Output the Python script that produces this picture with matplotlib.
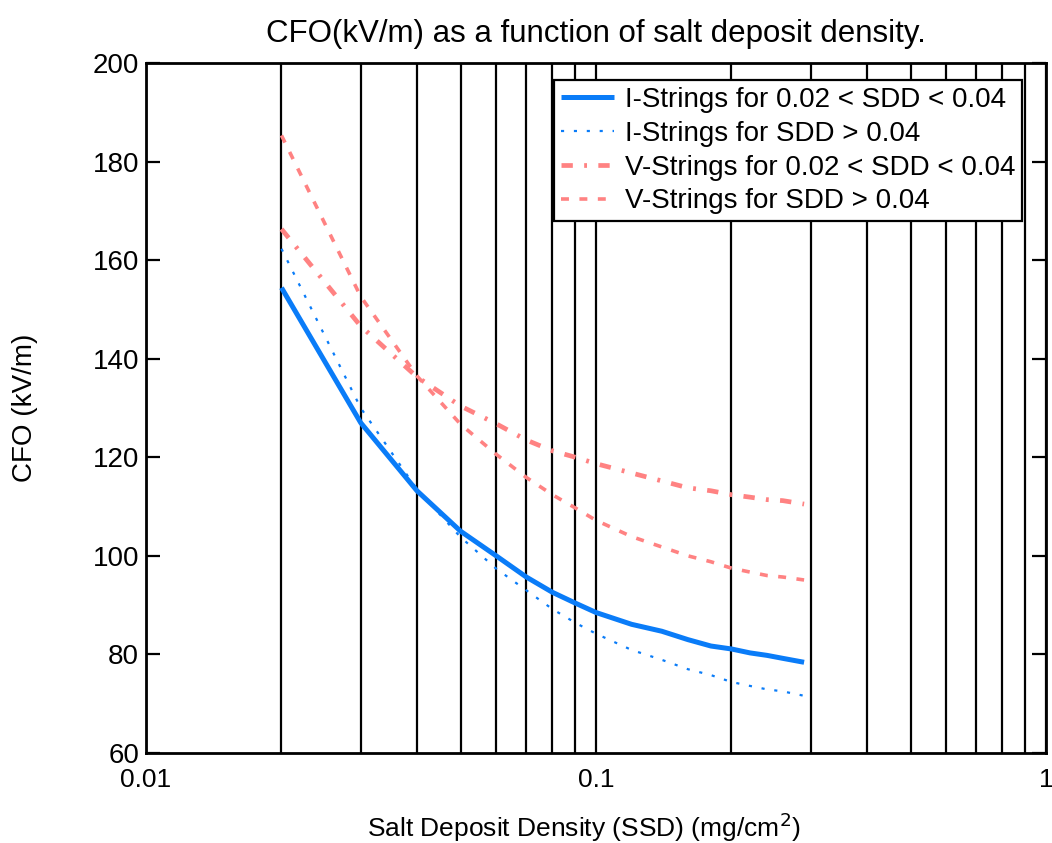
import matplotlib
matplotlib.use("Agg")
import matplotlib.pyplot as plt
from matplotlib.ticker import FuncFormatter, NullFormatter, MultipleLocator

# salt deposit density samples (mg/cm^2)
sdd = [0.02, 0.03, 0.04, 0.05, 0.06, 0.07, 0.08, 0.09, 0.10,
       0.12, 0.14, 0.16, 0.18, 0.20, 0.22, 0.24, 0.26, 0.29]

# CFO (kV/m) for each string type
i_low = [154.4, 127.0, 113.2, 105.0, 100.0, 95.7, 92.6, 90.4, 88.5,
         86.1, 84.7, 83.0, 81.7, 81.1, 80.3, 79.8, 79.2, 78.4]
i_high = [162.3, 130.0, 113.5, 103.8, 97.4, 93.0, 89.2, 86.4, 84.2,
          80.9, 78.9, 77.0, 75.8, 74.4, 73.6, 72.9, 72.5, 71.6]
v_low = [166.3, 146.6, 136.3, 130.4, 126.8, 123.5, 121.3, 120.0, 118.7,
         116.8, 115.2, 113.8, 113.2, 112.4, 111.9, 111.4, 111.2, 110.5]
v_high = [185.3, 152.6, 136.5, 126.7, 120.6, 115.9, 112.4, 109.7, 107.2,
          103.9, 101.8, 100.0, 98.8, 97.5, 96.7, 96.0, 95.7, 95.1]

labels = ["I-Strings for 0.02 < SDD < 0.04",
          "I-Strings for SDD > 0.04",
          "V-Strings for 0.02 < SDD < 0.04",
          "V-Strings for SDD > 0.04"]

blue = "#0a7cf8"
red = "#ff8282"

plt.rcParams["font.family"] = ["Liberation Sans", "DejaVu Sans"]

fig = plt.figure(figsize=(10.52, 8.43), dpi=100)
ax = fig.add_axes([0.1388, 0.1068, 0.8555, 0.8185])

ax.plot(sdd, i_low, color=blue, lw=3.6, solid_capstyle="butt", label=labels[0], zorder=5)
ax.plot(sdd, i_high, color=blue, lw=1.6, dashes=(1.4, 4.4), label=labels[1], zorder=5)
ax.plot(sdd, v_low, color=red, lw=3.4, dashes=(2.4, 2.4, 0.6, 2.4), label=labels[2], zorder=5)
ax.plot(sdd, v_high, color=red, lw=2.6, dashes=(2.2, 2.9), label=labels[3], zorder=5)

ax.set_xscale("log")
ax.set_xlim(0.01, 1)
ax.set_ylim(60, 200)
ax.yaxis.set_major_locator(MultipleLocator(20))
ax.xaxis.set_major_formatter(FuncFormatter(lambda v, p: "{:g}".format(v)))
ax.xaxis.set_minor_formatter(NullFormatter())

ax.grid(True, which="both", axis="x", color="black", lw=1.6)
ax.set_axisbelow(True)

for s in ax.spines.values():
    s.set_linewidth(2)
    s.set_color("black")

ax.tick_params(axis="y", which="both", direction="in", right=True, length=10, width=1.6,
               labelsize=20, pad=5)
ax.tick_params(axis="x", which="both", direction="in", top=True, length=0,
               labelsize=19, pad=11)

ax.set_title("CFO(kV/m) as a function of salt deposit density.", fontsize=22.5, pad=15)
ax.set_xlabel("Salt Deposit Density (SSD) (mg/cm$^{2}$)", fontsize=19)
ax.xaxis.set_label_coords(0.487, -0.084)
ax.set_ylabel("CFO (kV/m)", fontsize=20)
ax.yaxis.set_label_coords(-0.12, 0.5)

leg = ax.legend(loc="upper left", bbox_to_anchor=(0.4533, 0.975), fontsize=20,
                frameon=True, fancybox=False, edgecolor="black", framealpha=1,
                handlelength=1.9, handletextpad=0.4, labelspacing=0.28,
                borderpad=0.25, borderaxespad=0)
leg.get_frame().set_linewidth(1.6)
leg.set_zorder(10)

fig.savefig("out.png", dpi=100)
